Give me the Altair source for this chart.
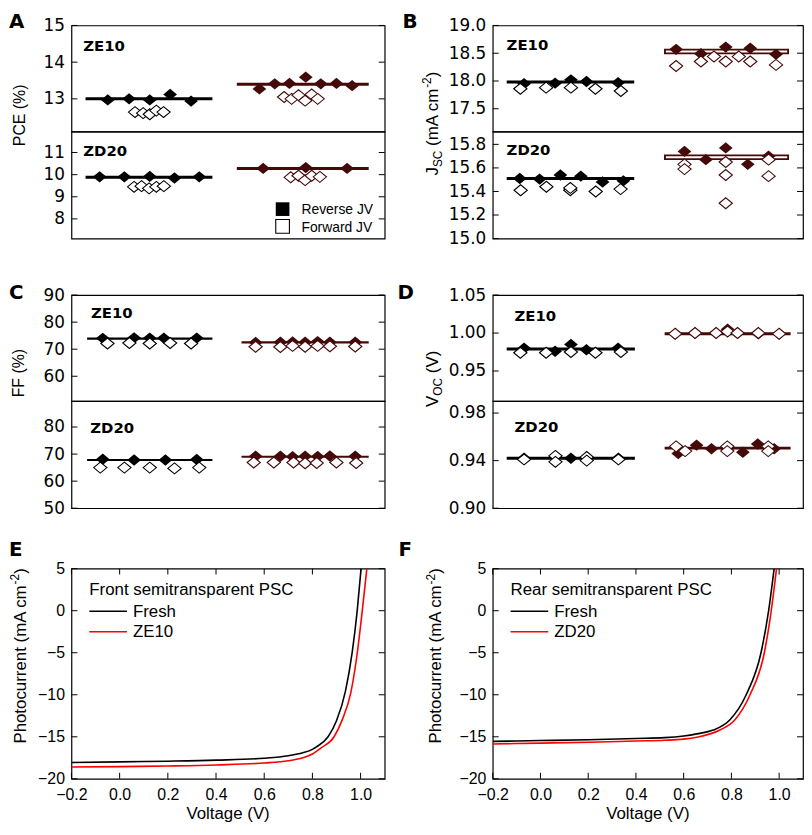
import altair as alt
import pandas as pd

SANS = "Liberation Sans"
WIDE = "DejaVu Sans"
MAROON = "#440909"
GROUPS = ["fresh", "aged"]
GROUP_COLORS = ["#000000", MAROON]
DIAMOND = "M-1.15,0L0,-0.95L1.15,0L0,0.95Z"

# ---------------- A : PCE (%) ----------------
PCE_ZE10_FRESH_REV_X = [1.16, 1.84, 2.50, 3.15, 3.82]
PCE_ZE10_FRESH_REV_Y = [12.97, 13.00, 12.97, 13.12, 12.94]
PCE_ZE10_FRESH_FWD_X = [2.03, 2.29, 2.50, 2.71, 2.94]
PCE_ZE10_FRESH_FWD_Y = [12.64, 12.61, 12.58, 12.68, 12.64]
PCE_ZE10_AGED_REV_X = [6.00, 6.49, 6.96, 7.48, 7.96, 8.46, 8.96]
PCE_ZE10_AGED_REV_Y = [13.27, 13.41, 13.42, 13.59, 13.41, 13.42, 13.36]
PCE_ZE10_AGED_FWD_X = [6.79, 7.03, 7.25, 7.46, 7.67, 7.86]
PCE_ZE10_AGED_FWD_Y = [13.05, 13.00, 13.10, 12.95, 13.12, 13.00]
PCE_ZE10_MEAN = [13.00, 13.40]

PCE_ZD20_FRESH_REV_X = [0.90, 1.69, 2.50, 3.29, 4.08]
PCE_ZD20_FRESH_REV_Y = [9.90, 9.90, 9.92, 9.85, 9.90]
PCE_ZD20_FRESH_FWD_X = [2.00, 2.24, 2.48, 2.71, 2.95]
PCE_ZD20_FRESH_FWD_Y = [9.45, 9.48, 9.38, 9.45, 9.48]
PCE_ZD20_AGED_REV_X = [6.12, 7.48, 8.80]
PCE_ZD20_AGED_REV_Y = [10.28, 10.32, 10.28]
PCE_ZD20_AGED_FWD_X = [7.00, 7.25, 7.46, 7.67, 7.93]
PCE_ZD20_AGED_FWD_Y = [9.88, 9.95, 9.75, 9.95, 9.90]
PCE_ZD20_MEAN = [9.88, 10.28]
PCE_SPANS = [[0.45, 4.50], [5.28, 9.49]]
PCE_TICKS_TOP = [13, 14, 15]
PCE_TICKS_BOT = [8, 9, 10, 11]

# ---------------- B : Jsc (mA cm-2) ----------------
JSC_ZE10_FRESH_REV_X = [1.01, 2.01, 2.52, 3.02, 4.04]
JSC_ZE10_FRESH_REV_Y = [17.95, 17.96, 18.02, 17.99, 17.97]
JSC_ZE10_FRESH_FWD_X = [0.89, 1.72, 2.52, 3.31, 4.13]
JSC_ZE10_FRESH_FWD_Y = [17.86, 17.88, 17.88, 17.86, 17.82]
JSC_ZE10_AGED_REV_X = [5.91, 6.71, 7.51, 8.30, 9.13]
JSC_ZE10_AGED_REV_Y = [18.57, 18.49, 18.61, 18.59, 18.48]
JSC_ZE10_AGED_FWD_X = [5.91, 6.71, 7.13, 7.51, 7.93, 8.30, 9.13]
JSC_ZE10_AGED_FWD_Y = [18.27, 18.35, 18.44, 18.35, 18.44, 18.35, 18.29]
JSC_ZE10_MEAN = [17.98, 18.53]

JSC_ZD20_FRESH_REV_X = [0.87, 1.51, 2.18, 2.84, 3.54, 4.21]
JSC_ZD20_FRESH_REV_Y = [15.51, 15.505, 15.54, 15.53, 15.48, 15.49]
JSC_ZD20_FRESH_FWD_X = [0.90, 1.73, 2.50, 2.50, 3.32, 4.12]
JSC_ZD20_FRESH_FWD_Y = [15.41, 15.44, 15.41, 15.43, 15.40, 15.42]
JSC_ZD20_AGED_REV_X = [6.18, 6.87, 7.51, 8.22, 8.89]
JSC_ZD20_AGED_REV_Y = [15.74, 15.67, 15.77, 15.63, 15.70]
JSC_ZD20_AGED_FWD_X = [6.18, 6.18, 7.51, 7.51, 7.51, 8.89, 8.89]
JSC_ZD20_AGED_FWD_Y = [15.63, 15.59, 15.65, 15.54, 15.30, 15.67, 15.53]
JSC_ZD20_MEAN = [15.51, 15.69]
JSC_SPANS = [[0.45, 4.56], [5.52, 9.55]]
JSC_TICKS_TOP = [17.5, 18.0, 18.5, 19.0]
JSC_TICKS_BOT = [15.0, 15.2, 15.4, 15.6, 15.8]

# ---------------- C : FF (%) ----------------
FF_ZE10_FRESH_REV_X = [1.00, 2.00, 2.50, 2.95, 4.00]
FF_ZE10_FRESH_REV_Y = [74.0, 74.2, 74.1, 74.1, 74.1]
FF_ZE10_FRESH_FWD_X = [1.15, 1.85, 2.50, 3.15, 3.82]
FF_ZE10_FRESH_FWD_Y = [72.1, 72.3, 72.1, 72.3, 72.1]
FF_ZE10_AGED_REV_X = [5.88, 6.67, 7.06, 7.46, 7.86, 8.25, 9.06]
FF_ZE10_AGED_REV_Y = [72.5, 72.6, 72.7, 72.6, 72.8, 72.6, 72.6]
FF_ZE10_AGED_FWD_X = [5.88, 6.67, 7.06, 7.46, 7.86, 8.25, 9.06]
FF_ZE10_AGED_FWD_Y = [70.9, 70.8, 71.2, 70.9, 71.2, 71.1, 71.0]
FF_ZE10_MEAN = [73.9, 72.5]

FF_ZD20_FRESH_REV_X = [1.00, 2.00, 3.00, 4.00]
FF_ZD20_FRESH_REV_Y = [68.1, 67.8, 67.8, 68.0]
FF_ZD20_FRESH_FWD_X = [0.92, 1.69, 2.50, 3.29, 4.08]
FF_ZD20_FRESH_FWD_Y = [65.0, 65.0, 65.0, 64.7, 65.0]
FF_ZD20_AGED_REV_X = [5.88, 6.67, 7.06, 7.46, 7.86, 8.25, 9.06]
FF_ZD20_AGED_REV_Y = [69.2, 69.2, 69.0, 69.2, 69.1, 69.3, 69.2]
FF_ZD20_AGED_FWD_X = [5.82, 6.46, 7.09, 7.46, 7.83, 8.46, 9.09]
FF_ZD20_AGED_FWD_Y = [66.9, 66.9, 66.9, 66.6, 66.7, 66.9, 66.7]
FF_ZD20_MEAN = [67.8, 69.0]
FF_SPANS = [[0.50, 4.50], [5.43, 9.49]]
FF_TICKS_TOP = [60, 70, 80, 90]
FF_TICKS_BOT = [50, 60, 70, 80]

# ---------------- D : Voc (V) ----------------
VOC_ZE10_FRESH_REV_X = [1.01, 2.01, 2.52, 3.02, 4.04]
VOC_ZE10_FRESH_REV_Y = [0.980, 0.976, 0.985, 0.978, 0.980]
VOC_ZE10_FRESH_FWD_X = [0.89, 1.72, 2.52, 3.31, 4.13]
VOC_ZE10_FRESH_FWD_Y = [0.974, 0.974, 0.975, 0.974, 0.975]
VOC_ZE10_AGED_REV_X = [5.88, 6.52, 7.20, 7.57, 7.89, 8.56, 9.23]
VOC_ZE10_AGED_REV_Y = [0.999, 1.000, 1.000, 1.005, 1.000, 0.999, 0.999]
VOC_ZE10_AGED_FWD_X = [5.88, 6.52, 7.20, 7.57, 7.89, 8.56, 9.23]
VOC_ZE10_AGED_FWD_Y = [0.999, 1.000, 1.000, 1.002, 1.000, 1.000, 0.999]
VOC_ZE10_MEAN = [0.979, 0.999]

VOC_ZD20_FRESH_REV_X = [1.01, 2.02, 2.52, 3.03, 4.05]
VOC_ZD20_FRESH_REV_Y = [0.942, 0.943, 0.942, 0.942, 0.942]
VOC_ZD20_FRESH_FWD_X = [1.01, 2.02, 2.02, 3.03, 3.03, 4.05]
VOC_ZD20_FRESH_FWD_Y = [0.941, 0.944, 0.939, 0.943, 0.940, 0.941]
VOC_ZD20_AGED_REV_X = [5.98, 6.57, 7.05, 7.56, 8.06, 8.54, 9.07]
VOC_ZD20_AGED_REV_Y = [0.946, 0.953, 0.950, 0.949, 0.947, 0.954, 0.950]
VOC_ZD20_AGED_FWD_X = [5.91, 6.20, 7.56, 7.56, 8.88, 8.88]
VOC_ZD20_AGED_FWD_Y = [0.952, 0.948, 0.952, 0.948, 0.952, 0.948]
VOC_ZD20_MEAN = [0.942, 0.9505]
VOC_SPANS = [[0.45, 4.58], [5.54, 9.60]]
VOC_TICKS_TOP = [0.95, 1.00, 1.05]
VOC_TICKS_BOT = [0.90, 0.94, 0.98]

# ---------------- E / F : J-V curves ----------------
E_FRESH_V = [-0.2, 0.0, 0.2, 0.4, 0.6, 0.7, 0.76, 0.8, 0.817, 0.865, 0.9, 0.937, 0.965, 0.986, 1.002]
E_FRESH_J = [-18.05, -17.98, -17.9, -17.78, -17.55, -17.25, -16.9, -16.5, -16.2, -15.0, -13.1, -9.6, -5.0, 0.0, 5.0]
E_ZE10_V = [-0.2, 0.0, 0.2, 0.4, 0.6, 0.7, 0.76, 0.8, 0.835, 0.89, 0.925, 0.959, 0.985, 1.007, 1.026]
E_ZE10_J = [-18.6, -18.55, -18.47, -18.35, -18.12, -17.85, -17.5, -17.05, -16.35, -15.0, -12.9, -9.8, -5.3, 0.0, 5.0]
F_FRESH_V = [-0.2, 0.0, 0.2, 0.4, 0.52, 0.6, 0.655, 0.724, 0.793, 0.862, 0.924, 0.956, 0.979]
F_FRESH_J = [-15.55, -15.45, -15.35, -15.2, -15.1, -14.9, -14.65, -14.2, -13.0, -10.0, -5.0, 0.0, 5.0]
F_ZD20_V = [-0.2, 0.0, 0.2, 0.4, 0.52, 0.6, 0.655, 0.752, 0.814, 0.878, 0.938, 0.967, 0.989]
F_ZD20_J = [-15.85, -15.75, -15.65, -15.5, -15.42, -15.28, -15.05, -14.2, -13.0, -10.0, -5.0, 0.0, 5.0]
JV_XTICKS = [-0.2, 0.0, 0.2, 0.4, 0.6, 0.8, 1.0]
JV_YTICKS = [-20, -15, -10, -5, 0, 5]

# ---------------- helpers ----------------
ONE = pd.DataFrame({"k": [0]})
CW = {"J": 500, "S": 667, "C": 722, " ": 278, "(": 333, ")": 333, "m": 833, "A": 667,
      "c": 500, "-": 333, "2": 556, "V": 667, "O": 778, "P": 667, "h": 556, "o": 556,
      "t": 278, "u": 556, "r": 333, "e": 556, "n": 556, "E": 667, "F": 611, "%": 889}


def tw(s, size):
    return sum(CW.get(c, 556) for c in s) * size / 1000.0


def text_at(t, x, y, size, font=SANS, weight="normal", align="left",
            baseline="alphabetic", angle=0, color="black"):
    kw = dict(text=t, font=font, fontSize=size, fontWeight=weight, align=align,
              baseline=baseline, color=color)
    if angle:
        kw["angle"] = angle
    return alt.Chart(ONE).mark_text(**kw).encode(x=alt.value(x), y=alt.value(y))


def vtitle(pieces, xb, yc):
    total = sum(g + tw(t, s) for t, s, dx, g in pieces)
    y = yc + total / 2
    out = []
    for t, s, dx, g in pieces:
        y -= g
        out.append(text_at(t, xb + dx, y, s, angle=270))
        y -= tw(t, s)
    return out


def pts(fx, fy, ax, ay):
    return pd.DataFrame({"x": fx + ax, "y": fy + ay,
                         "grp": ["fresh"] * len(fx) + ["aged"] * len(ax)})


def strip(width, height, domain, ticks, fmt, means, spans, rev, fwd, tag, tag_xy,
          line_w=(3, 3), core_w=(0, 0)):
    xs = alt.Scale(domain=[0, 10], nice=False, zero=False)
    ys = alt.Scale(domain=domain, nice=False, zero=False)
    yaxis = alt.Axis(values=ticks, format=fmt, ticks=False, domain=False, grid=False,
                     labelFont=WIDE, labelFontSize=17, labelColor="black",
                     labelPadding=7, labelOverlap=False, labelFlush=False, title=None)
    cscale = alt.Scale(domain=GROUPS, range=GROUP_COLORS)

    def X(f):
        return alt.X(f, scale=xs, axis=None)

    def Y(f):
        return alt.Y(f, scale=ys, axis=yaxis)

    layers = []
    for i in range(2):
        m = pd.DataFrame({"x0": [spans[i][0]], "x1": [spans[i][1]], "m": [means[i]]})
        layers.append(alt.Chart(m).mark_rule(color=GROUP_COLORS[i], strokeWidth=line_w[i])
                      .encode(x=X("x0:Q"), x2="x1:Q", y=Y("m:Q")))
        if core_w[i]:
            mc = pd.DataFrame({"x0": [spans[i][0] + 0.06], "x1": [spans[i][1] - 0.06],
                               "m": [means[i]]})
            layers.append(alt.Chart(mc).mark_rule(color="white", strokeWidth=core_w[i])
                          .encode(x=X("x0:Q"), x2="x1:Q", y=Y("m:Q")))
    layers.append(alt.Chart(rev).mark_point(shape=DIAMOND, filled=True, size=145, opacity=1,
                                            strokeWidth=0)
                  .encode(x=X("x:Q"), y=Y("y:Q"),
                          fill=alt.Fill("grp:N", scale=cscale, legend=None)))
    layers.append(alt.Chart(fwd).mark_point(shape=DIAMOND, filled=False, fill="white",
                                            size=135, opacity=1, strokeWidth=1.1)
                  .encode(x=X("x:Q"), y=Y("y:Q"),
                          stroke=alt.Stroke("grp:N", scale=cscale, legend=None)))
    tk = pd.DataFrame({"t": ticks})
    for xpos in (3, width - 3):
        layers.append(alt.Chart(tk).mark_tick(orient="horizontal", size=6, thickness=1,
                                              color="black", opacity=1)
                      .encode(y=Y("t:Q"), x=alt.value(xpos)))
    layers.append(text_at(tag, tag_xy[0], tag_xy[1], 15, font=WIDE, weight="bold"))
    return layers


def jv(width, height, fv, fj, av, aj, aged_name, head):
    xs = alt.Scale(domain=[-0.2, 1.1], nice=False, zero=False)
    ys = alt.Scale(domain=[-20, 5], nice=False, zero=False)
    xaxis = alt.Axis(values=JV_XTICKS, format=".1f", ticks=False, domain=False, grid=False,
                     labelFont=SANS, labelFontSize=16, labelColor="black", labelPadding=8,
                     labelFlush=False, labelOverlap=False, title=None)
    yaxis = alt.Axis(values=JV_YTICKS, format="d", ticks=False, domain=False, grid=False,
                     labelFont=SANS, labelFontSize=16, labelColor="black", labelPadding=7,
                     labelFlush=False, labelOverlap=False, title=None)

    def X(f):
        return alt.X(f, scale=xs, axis=xaxis)

    def Y(f):
        return alt.Y(f, scale=ys, axis=yaxis)

    curves = pd.DataFrame({"v": fv + av, "j": fj + aj,
                           "s": ["fresh"] * len(fv) + ["aged"] * len(av)})
    layers = [alt.Chart(curves).mark_line(strokeWidth=1.6, interpolate="monotone", clip=True)
              .encode(x=X("v:Q"), y=Y("j:Q"),
                      color=alt.Color("s:N", scale=alt.Scale(domain=GROUPS,
                                                             range=["black", "red"]),
                                      legend=None))]
    xt = pd.DataFrame({"t": JV_XTICKS})
    yt = pd.DataFrame({"t": JV_YTICKS})
    for ypos in (3, height - 3):
        layers.append(alt.Chart(xt).mark_tick(orient="vertical", size=6, thickness=1,
                                              color="black", opacity=1)
                      .encode(x=X("t:Q"), y=alt.value(ypos)))
    for xpos in (3, width - 3):
        layers.append(alt.Chart(yt).mark_tick(orient="horizontal", size=6, thickness=1,
                                              color="black", opacity=1)
                      .encode(y=Y("t:Q"), x=alt.value(xpos)))
    layers.append(text_at(head, 18, 26.3, 17))
    layers.append(alt.Chart(ONE).mark_rule(color="black", strokeWidth=1.6)
                  .encode(x=alt.value(18), x2=alt.value(56), y=alt.value(43)))
    layers.append(alt.Chart(ONE).mark_rule(color="red", strokeWidth=1.6)
                  .encode(x=alt.value(18), x2=alt.value(56), y=alt.value(63.7)))
    layers.append(text_at("Fresh", 62, 48.3, 17))
    layers.append(text_at(aged_name, 62, 68.7, 17))
    layers.append(text_at("Voltage (V)", width / 2, height + 41, 17, align="center"))
    return layers


def letter(ch, x, y):
    return text_at(ch, x, y, 20, font=WIDE, weight="bold", baseline="top")


def spacer(w, h):
    return (alt.Chart(ONE).mark_point(opacity=0)
            .encode(x=alt.value(0), y=alt.value(0))
            .properties(width=w, height=h, view=alt.ViewBackground(stroke="transparent")))


WL, WR = 316, 313
HT, HB = 107, 108
HE = 212
GAP = " "

# anchor fixing the chart's top-left corner
anchor = (alt.Chart(ONE).mark_rule(color="white", strokeWidth=0.1)
          .encode(x=alt.value(-63), x2=alt.value(-62.9), y=alt.value(-13)))

# ---- A ----
A_top = alt.layer(
    *strip(WL, HT, [12.11, 15.0], PCE_TICKS_TOP, ".0f", PCE_ZE10_MEAN, PCE_SPANS,
           pts(PCE_ZE10_FRESH_REV_X, PCE_ZE10_FRESH_REV_Y, PCE_ZE10_AGED_REV_X, PCE_ZE10_AGED_REV_Y),
           pts(PCE_ZE10_FRESH_FWD_X, PCE_ZE10_FRESH_FWD_Y, PCE_ZE10_AGED_FWD_X, PCE_ZE10_AGED_FWD_Y),
           "ZE10", (12, 25.7)),
    anchor, letter("A", -63, -13),
    *vtitle([("PCE (%)", 16, 0, 0)], -46.5, 90.7),
).properties(width=WL, height=HT)

A_bot = alt.layer(
    *strip(WL, HB, [7.11, 11.95], PCE_TICKS_BOT, ".0f", PCE_ZD20_MEAN, PCE_SPANS,
           pts(PCE_ZD20_FRESH_REV_X, PCE_ZD20_FRESH_REV_Y, PCE_ZD20_AGED_REV_X, PCE_ZD20_AGED_REV_Y),
           pts(PCE_ZD20_FRESH_FWD_X, PCE_ZD20_FRESH_FWD_Y, PCE_ZD20_AGED_FWD_X, PCE_ZD20_AGED_FWD_Y),
           "ZD20", (12, 24.7)),
    alt.Chart(ONE).mark_point(shape="square", filled=True, size=190, color="black", opacity=1)
    .encode(x=alt.value(213), y=alt.value(78.3)),
    alt.Chart(ONE).mark_point(shape="square", filled=False, fill="white", size=190, color="black",
                              strokeWidth=1.1, opacity=1)
    .encode(x=alt.value(213), y=alt.value(95.7)),
    text_at("Reverse JV", 232, 83.7, 14),
    text_at("Forward JV", 232, 101.3, 14),
).properties(width=WL, height=HB)

# ---- B ----
B_top = alt.layer(
    *strip(WR, HT, [17.09, 19.0], JSC_TICKS_TOP, ".1f", JSC_ZE10_MEAN, JSC_SPANS,
           pts(JSC_ZE10_FRESH_REV_X, JSC_ZE10_FRESH_REV_Y, JSC_ZE10_AGED_REV_X, JSC_ZE10_AGED_REV_Y),
           pts(JSC_ZE10_FRESH_FWD_X, JSC_ZE10_FRESH_FWD_Y, JSC_ZE10_AGED_FWD_X, JSC_ZE10_AGED_FWD_Y),
           "ZE10", (14, 25), line_w=(3, 5.5), core_w=(0, 2)),
    letter("B", -91, -13),
    *vtitle([("J", 17, 0, 0), ("SC", 12, 4, 0), ("(mA cm", 17, 0, tw(GAP, 17)),
             ("-2", 12, -6.5, 0), (")", 17, 0, 0)], -55.3, 99),
).properties(width=WR, height=HT)

B_bot = alt.layer(
    *strip(WR, HB, [15.0, 15.909], JSC_TICKS_BOT, ".1f", JSC_ZD20_MEAN, JSC_SPANS,
           pts(JSC_ZD20_FRESH_REV_X, JSC_ZD20_FRESH_REV_Y, JSC_ZD20_AGED_REV_X, JSC_ZD20_AGED_REV_Y),
           pts(JSC_ZD20_FRESH_FWD_X, JSC_ZD20_FRESH_FWD_Y, JSC_ZD20_AGED_FWD_X, JSC_ZD20_AGED_FWD_Y),
           "ZD20", (14, 23.7), line_w=(3, 5.5), core_w=(0, 2)),
).properties(width=WR, height=HB)

# ---- C ----
C_top = alt.layer(
    *strip(WL, HT, [50.8, 90.0], FF_TICKS_TOP, ".0f", FF_ZE10_MEAN, FF_SPANS,
           pts(FF_ZE10_FRESH_REV_X, FF_ZE10_FRESH_REV_Y, FF_ZE10_AGED_REV_X, FF_ZE10_AGED_REV_Y),
           pts(FF_ZE10_FRESH_FWD_X, FF_ZE10_FRESH_FWD_Y, FF_ZE10_AGED_FWD_X, FF_ZE10_AGED_FWD_Y),
           "ZE10", (19.7, 23.3), line_w=(2.2, 2.2)),
    letter("C", -63, -12),
    *vtitle([("FF (%)", 16, 0, 0)], -47.5, 78.7),
).properties(width=WL, height=HT)

C_bot = alt.layer(
    *strip(WL, HB, [50.0, 89.56], FF_TICKS_BOT, ".0f", FF_ZD20_MEAN, FF_SPANS,
           pts(FF_ZD20_FRESH_REV_X, FF_ZD20_FRESH_REV_Y, FF_ZD20_AGED_REV_X, FF_ZD20_AGED_REV_Y),
           pts(FF_ZD20_FRESH_FWD_X, FF_ZD20_FRESH_FWD_Y, FF_ZD20_AGED_FWD_X, FF_ZD20_AGED_FWD_Y),
           "ZD20", (19, 32.4), line_w=(2.2, 2.2)),
).properties(width=WL, height=HB)

# ---- D ----
D_top = alt.layer(
    *strip(WR, HT, [0.9103, 1.05], VOC_TICKS_TOP, ".2f", VOC_ZE10_MEAN, VOC_SPANS,
           pts(VOC_ZE10_FRESH_REV_X, VOC_ZE10_FRESH_REV_Y, VOC_ZE10_AGED_REV_X, VOC_ZE10_AGED_REV_Y),
           pts(VOC_ZE10_FRESH_FWD_X, VOC_ZE10_FRESH_FWD_Y, VOC_ZE10_AGED_FWD_X, VOC_ZE10_AGED_FWD_Y),
           "ZE10", (22, 26.6)),
    letter("D", -96, -12),
    *vtitle([("V", 17, 0, 0), ("OC", 12, 4, 0), ("(V)", 17, 0, tw(GAP, 17))], -55.3, 84.5),
).properties(width=WR, height=HT)

D_bot = alt.layer(
    *strip(WR, HB, [0.90, 0.99], VOC_TICKS_BOT, ".2f", VOC_ZD20_MEAN, VOC_SPANS,
           pts(VOC_ZD20_FRESH_REV_X, VOC_ZD20_FRESH_REV_Y, VOC_ZD20_AGED_REV_X, VOC_ZD20_AGED_REV_Y),
           pts(VOC_ZD20_FRESH_FWD_X, VOC_ZD20_FRESH_FWD_Y, VOC_ZD20_AGED_FWD_X, VOC_ZD20_AGED_FWD_Y),
           "ZD20", (22, 31)),
).properties(width=WR, height=HB)

# ---- E / F ----
PHOTO = [("Photocurrent", 17, 0, 0), ("(mA cm", 17, 0, tw(GAP, 17)), ("-2", 12, -6.5, 0),
         (")", 17, 0, 0)]
E = alt.layer(
    *jv(WL, HE, E_FRESH_V, E_FRESH_J, E_ZE10_V, E_ZE10_J, "ZE10", "Front semitransparent PSC"),
    letter("E", -63, -29),
    *vtitle(PHOTO, -46, 88),
).properties(width=WL, height=HE)

F = alt.layer(
    *jv(WR, HE, F_FRESH_V, F_FRESH_J, F_ZD20_V, F_ZD20_J, "ZD20", "Rear semitransparent PSC"),
    letter("F", -95, -29),
    *vtitle(PHOTO, -52, 88),
).properties(width=WR, height=HE)

grid = alt.concat(
    A_top, B_top, A_bot, B_bot,
    spacer(WL, 57), spacer(WR, 57),
    C_top, D_top, C_bot, D_bot,
    spacer(WL, 61), spacer(WR, 61),
    E, F,
    columns=2, spacing={"row": 0, "column": 109}, bounds="flush",
)

chart = grid.properties(padding=0).configure_view(stroke="black", strokeWidth=1.2)
chart.save("out.html", embed_options={"renderer": "svg", "actions": False})
